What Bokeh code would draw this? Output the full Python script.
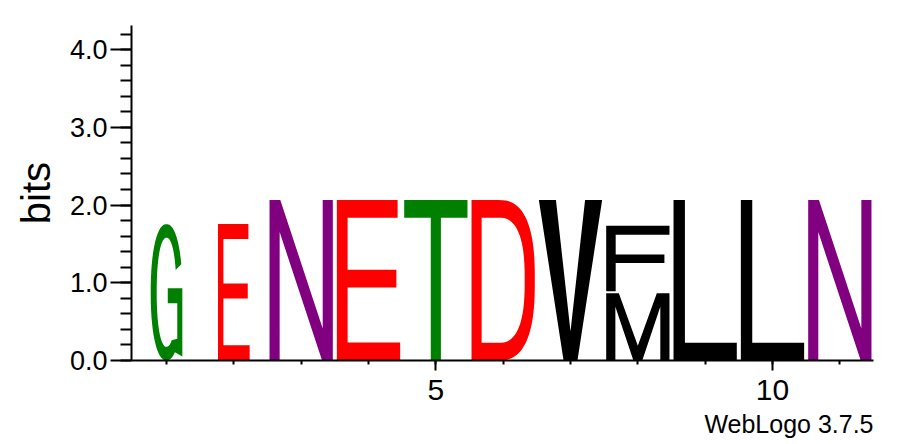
#!/usr/bin/env python3

import numpy as np
from bokeh.embed import file_html
from bokeh.models import FixedTicker, PrintfTickFormatter, Range1d, Title
from bokeh.plotting import figure
from bokeh.resources import INLINE

# one entry per drawn letter, stacked bottom to top inside a column
positions = list(range(1, 12))
column_width = [0.5, 0.5, 1, 1, 1, 1, 1, 1, 1, 1, 1]
letter_pos = [1, 2, 3, 4, 5, 6, 7, 8, 8, 9, 10, 11]
letter_char = ["G", "E", "N", "E", "T", "D", "V", "M", "F", "L", "L", "N"]
letter_bits = [1.78, 1.78, 2.09, 2.09, 2.09, 2.09, 2.09, 0.89, 0.87, 2.09, 2.09, 2.09]

y_ticks = [0, 1, 2, 3, 4]
x_ticks = [5, 10]
credit = "WebLogo 3.7.5"

FONT = "Liberation Sans"
COLORS = {
    "G": "green", "T": "green",
    "E": "red", "D": "red",
    "N": "purple",
    "V": "black", "F": "black", "M": "black", "L": "black",
}


def arc(cx, cy, rx, ry, a0, a1, n=2.0, steps=48):
    t = np.radians(np.linspace(a0, a1, steps))
    c, s = np.cos(t), np.sin(t)
    x = cx + rx * np.sign(c) * np.abs(c) ** (2.0 / n)
    y = cy + ry * np.sign(s) * np.abs(s) ** (2.0 / n)
    return list(zip(x, y))


# letter outlines in a unit box (0..1, 0..1), stretched to the stack cell
GLYPHS = {
    "E": [[(0, 0), (0, 1), (0.96, 1), (0.96, 0.89), (0.17, 0.89), (0.17, 0.565),
           (0.94, 0.565), (0.94, 0.455), (0.17, 0.455), (0.17, 0.112), (1, 0.112), (1, 0)]],
    "T": [[(0, 1), (1, 1), (1, 0.89), (0.58, 0.89), (0.58, 0), (0.42, 0),
           (0.42, 0.89), (0, 0.89)]],
    "N": [[(0, 0), (0, 1), (0.17, 1), (0.84, 0.2), (0.84, 1), (1, 1), (1, 0),
           (0.83, 0), (0.16, 0.8), (0.16, 0)]],
    "L": [[(0, 0), (0, 1), (0.18, 1), (0.18, 0.11), (1, 0.11), (1, 0)]],
    "F": [[(0, 0), (0, 1), (1, 1), (1, 0.86), (0.15, 0.86), (0.15, 0.56),
           (0.92, 0.56), (0.92, 0.43), (0.15, 0.43), (0.15, 0)]],
    "M": [[(0, 0), (0, 1), (0.2, 1), (0.5, 0.22), (0.8, 1), (1, 1), (1, 0),
           (0.855, 0), (0.855, 0.8), (0.57, 0), (0.43, 0), (0.145, 0.8), (0.145, 0)]],
    "V": [[(0, 1), (0.27, 1), (0.5, 0.18), (0.73, 1), (1, 1), (0.61, 0), (0.39, 0)]],
    "D": [
        [(0, 0), (0, 1)] + arc(0.42, 0.5, 0.58, 0.5, 90, -90, n=2.6),
        [(0.16, 0.11), (0.16, 0.89)] + arc(0.42, 0.5, 0.42, 0.39, 90, -90, n=2.6),
    ],
    "G": [
        arc(0.5, 0.5, 0.5, 0.5, 22, 300, n=2.2)
        + [(1.0, 0.03), (1.0, 0.53), (0.54, 0.53), (0.54, 0.42), (0.84, 0.42), (0.84, 0.16)]
        + arc(0.5, 0.5, 0.31, 0.4, 300, 22, n=2.2)
    ],
}

xs, ys, fills = [], [], []
base = {pos: 0.0 for pos in positions}
for pos, ch, h in zip(letter_pos, letter_char, letter_bits):
    w = column_width[pos - 1] * 0.94
    y0 = base[pos]
    base[pos] += h
    hh = h - 0.025
    xs.append([[[pos - w / 2 + ux * w for ux, uy in ring] for ring in GLYPHS[ch]]])
    ys.append([[[y0 + uy * hh for ux, uy in ring] for ring in GLYPHS[ch]]])
    fills.append(COLORS[ch])

p = figure(
    width=897,
    height=444,
    x_range=Range1d(0.48, 11.5),
    y_range=Range1d(0, 4.31),
    min_border_left=131,
    min_border_right=24,
    min_border_top=25,
    min_border_bottom=84,
    output_backend="svg",
    toolbar_location=None,
)
p.outline_line_color = None
p.grid.visible = False

p.multi_polygons(xs=xs, ys=ys, fill_color=fills, line_color=None)

p.yaxis.axis_label = "bits"
p.yaxis.ticker = FixedTicker(ticks=y_ticks, minor_ticks=[round(0.2 * i, 1) for i in range(22)])
p.yaxis.formatter = PrintfTickFormatter(format="%.1f")
p.yaxis.major_tick_out = 21
p.yaxis.minor_tick_out = 11
p.yaxis.major_label_standoff = 3
p.yaxis.major_label_text_font_size = "27px"
p.yaxis.axis_label_standoff = 9
p.yaxis.axis_label_text_font_size = "40px"

p.xaxis.ticker = FixedTicker(ticks=x_ticks, minor_ticks=positions)
p.xaxis.major_tick_out = 10
p.xaxis.minor_tick_out = 4
p.xaxis.major_label_standoff = 9
p.xaxis.major_label_text_font_size = "30px"

for ax in (p.xaxis, p.yaxis):
    ax.major_tick_in = 0
    ax.minor_tick_in = 0
    ax.axis_line_width = 2
    ax.major_tick_line_width = 2
    ax.minor_tick_line_width = 2
    ax.axis_line_color = "black"
    ax.major_tick_line_color = "black"
    ax.minor_tick_line_color = "black"
    ax.major_label_text_color = "black"
    ax.major_label_text_font = FONT
    ax.axis_label_text_font = FONT
    ax.axis_label_text_font_style = "normal"
    ax.axis_label_text_color = "black"

p.add_layout(Title(
    text=credit, align="right", standoff=11,
    text_font=FONT, text_font_size="25px", text_font_style="normal", text_color="black",
), "below")

open("out.html", "w").write(file_html(p, INLINE))
